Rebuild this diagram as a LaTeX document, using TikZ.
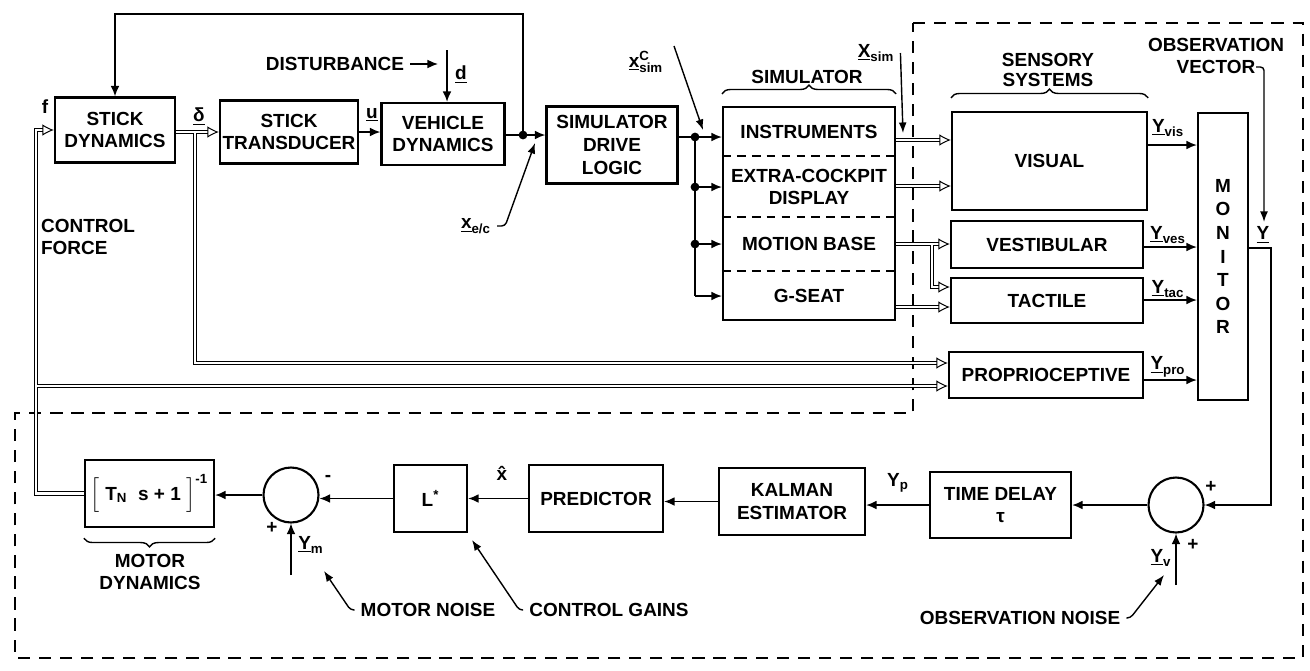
\documentclass[tikz,border=0pt]{standalone}
\usepackage{fontspec}
\setmainfont{Liberation Sans}
\usepackage{amsmath}
\usetikzlibrary{arrows.meta, positioning, calc, decorations.pathreplacing}

\begin{document}
\begin{tikzpicture}[
  x=0.02cm, y=-0.02cm,
  font=\bfseries\fontsize{10.8}{13}\selectfont,
  >={Latex[open, length=6.5pt, width=6.5pt]},
  box/.style={draw, line width=1.3pt, inner sep=1pt, align=center},
  sumnode/.style={draw, circle, line width=1.2pt, minimum size=1.1cm, inner sep=0pt},
  jdot/.style={circle, fill, inner sep=0pt, minimum size=5pt},
  sig/.style={line width=0.8pt, -{Latex[length=6pt, width=5pt]}},
  wire/.style={line width=0.8pt},
  ptr/.style={line width=0.8pt, -{Latex[length=6pt, width=4.5pt]}, rounded corners=2pt},
  dline/.style={line width=0.55pt, double, double distance=1.4pt},
  divider/.style={line width=0.9pt, dash pattern=on 5pt off 3.5pt},
  bound/.style={line width=0.9pt, dash pattern=on 7pt off 5pt},
  curly/.style={decorate, decoration={brace, amplitude=5pt}, line width=0.8pt}
]
\useasboundingbox (0,0) rectangle (1310,670);

% vehicle and simulator
\node[box, minimum width=2.4cm, minimum height=1.3cm] (stick) at (115,130) {STICK\\DYNAMICS};
\node[box, minimum width=2.76cm, minimum height=1.26cm] (trans) at (289,132) {STICK\\TRANSDUCER};
\node[box, minimum width=2.46cm, minimum height=1.24cm] (veh) at (443,134) {VEHICLE\\DYNAMICS};
\node[box, minimum width=2.62cm, minimum height=1.54cm] (sdl) at (612,145) {SIMULATOR\\DRIVE\\LOGIC};
\node[box, minimum width=3.44cm, minimum height=4.26cm] (sim) at (809,213.5) {};
\node (instr) at (809,132) {INSTRUMENTS};
\node[align=center] (extra) at (809,187) {EXTRA-COCKPIT\\DISPLAY};
\node (mbase) at (809,244) {MOTION BASE};
\node (gseat) at (809,296) {G-SEAT};
\foreach \dy in {50,111,165}
  \draw[divider] ($(sim.north west)+(0,\dy)$) -- ($(sim.north east)+(0,\dy)$);

% human operator
\node[box, minimum width=3.9cm, minimum height=1.96cm] (visual) at (1049.5,161) {VISUAL};
\node[box, minimum width=3.84cm, minimum height=0.94cm] (vestib) at (1047,244.5) {VESTIBULAR};
\node[box, minimum width=3.84cm, minimum height=0.9cm] (tactile) at (1047,300.5) {TACTILE};
\node[box, minimum width=3.88cm, minimum height=0.92cm] (proprio) at (1046,375) {PROPRIOCEPTIVE};
\node[box, minimum width=1cm, minimum height=5.74cm, font=\bfseries\fontsize{10.8}{13.4}\selectfont] (monitor) at (1223,256.5) {M\\O\\N\\I\\T\\O\\R};
\node[box, minimum width=2.58cm, minimum height=1.34cm] (motor) at (149.5,493.5) {$\Big[\;\text{T}_{\text{N}}\;\;\text{s}\;\text{+}\;\text{1}\;\Big]^{\text{-1}}$};
\node[sumnode] (sum1) at (291,495) {};
\node[box, minimum width=1.46cm, minimum height=1.34cm] (lstar) at (430.5,498.5) {L\textsuperscript{*}};
\node[box, minimum width=2.68cm, minimum height=1.34cm] (pred) at (596,498.5) {PREDICTOR};
\node[box, minimum width=2.92cm, minimum height=1.34cm] (kalman) at (792,501.5) {KALMAN\\ESTIMATOR};
\node[box, minimum width=2.82cm, minimum height=1.32cm] (delay) at (1000.5,505) {TIME DELAY\\τ};
\node[sumnode] (sum2) at (1176,505) {};

% labels
\node (flbl) at (45,107) {f};
\node (dltlbl) at (199,117) {$\underline{\text{δ}}$};
\node (ulbl) at (372,115) {$\underline{\text{u}}$};
\node (dist) at (335,64) {DISTURBANCE};
\node (dlbl) at (461,75) {$\underline{\text{d}}$};
\node (xec) at (476,226) {$\underline{\text{x}}_{\text{e/c}}$};
\node (xcsim) at (646,62) {$\underline{\text{x}}^{\text{C}}_{\text{sim}}$};
\node (simlbl) at (807,77) {SIMULATOR};
\node (xsim) at (876,53) {$\underline{\text{X}}_{\text{sim}}$};
\node[align=center] (senslbl) at (1048,70) {SENSORY\\[-2pt]SYSTEMS};
\node[align=center] (obsvec) at (1216,56) {OBSERVATION\\VECTOR};
\node (yvis) at (1168,128) {$\underline{\text{Y}}_{\text{vis}}$};
\node (yves) at (1168,235) {$\underline{\text{Y}}_{\text{ves}}$};
\node (ytac) at (1168,289) {$\underline{\text{Y}}_{\text{tac}}$};
\node (ypro) at (1168,367) {$\underline{\text{Y}}_{\text{pro}}$};
\node (ylbl) at (1263,235) {$\underline{\text{Y}}$};
\node[align=left] (cflbl) at (88,237) {CONTROL\\FORCE};
\node[align=center] (mdlbl) at (150,572) {MOTOR\\DYNAMICS};
\node (minus1) at (328,478) {-};
\node (plus1) at (272,528) {+};
\node (ymlbl) at (311,545) {$\underline{\text{Y}}_{\text{m}}$};
\node (xhat) at (502,473) {\^{x}};
\node (mnoise) at (428,610) {MOTOR NOISE};
\node (cgains) at (609,610) {CONTROL GAINS};
\node (yplbl) at (898,483) {$\text{Y}_{\text{p}}$};
\node (onoise) at (1020,618) {OBSERVATION NOISE};
\node (plus2) at (1211,487) {+};
\node (plus3) at (1193,545) {+};
\node (yvlbl) at (1161,558) {$\underline{\text{Y}}_{\text{v}}$};

% braces
\draw[curly] ($(sim.north west)+(0,-12)$) -- ($(sim.north east)+(0,-12)$);
\draw[curly] ($(visual.north west)+(0,-13)$) -- ($(visual.north east)+(0,-13)$);
\draw[curly] ($(motor.south east)+(0,10)$) -- ($(motor.south west)+(0,10)$);

% operator boundary
\draw[bound] (913,23) -- (1303,23) -- (1303,658) -- (15,658) -- (15,413) -- (913,413) -- cycle;

% forward path
\node[jdot] (j1) at (523,135) {};
\coordinate (fb) at (523,14);
\coordinate (dtop) at (447,50);
\draw[sig] (trans.east) -- (trans.east -| veh.west);
\draw[wire] (veh.east |- j1) -- (j1.center);
\draw[sig] (j1.center) -- (j1 -| sdl.west);
\draw[sig] (j1.center) -- (fb) -| (stick.north);
\draw[sig] (dtop) -- (dtop |- veh.north);
\draw[sig] (dist.east) -- ($(dist.east -| dtop)+(-9,0)$);

\node[jdot] (j2) at (695,137) {};
\node[jdot] (j3) at (695,187) {};
\node[jdot] (j4) at (695,244) {};
\coordinate (j5) at (695,296);
\draw[wire] (sdl.east |- j2) -- (j2.center) -- (j5);
\foreach \j in {j2,j3,j4,j5}
  \draw[sig] (\j.center) -- (\j -| sim.west);

% double lines (tips go on the last subpath)
\coordinate (db) at (195,132);
\coordinate (dp) at (195,363);
\coordinate (cfc) at (36,386);
\draw[dline, <->] (db) -- (stick.east |- db)
  (trans.west |- db) -- (db) -- (dp) -- (proprio.west |- dp);
\draw[dline, <->] (cfc) |- (motor.west)
  (stick.west) -| (cfc) -- (proprio.west |- cfc);

\coordinate (s1) at (0,140);
\coordinate (s2) at (0,186);
\coordinate (s3) at (0,244);
\coordinate (s4) at (0,307);
\coordinate (s5) at (932,287);
\draw[dline, ->] (sim.east |- s1) -- (visual.west |- s1);
\draw[dline, ->] (sim.east |- s2) -- (visual.west |- s2);
\draw[dline, <->] (sim.east |- s3) -- (s5 |- s3)
  (vestib.west |- s3) -- (s5 |- s3) |- (tactile.west |- s5);
\draw[dline, ->] (sim.east |- s4) -- (tactile.west |- s4);

% monitor
\coordinate (yv1) at (0,145);
\coordinate (yv2) at (0,247);
\coordinate (yv3) at (0,300);
\coordinate (yv4) at (0,380);
\foreach \b/\r in {visual/yv1, vestib/yv2, tactile/yv3, proprio/yv4}
  \draw[sig] (\b.east |- \r) -- (monitor.west |- \r);
\coordinate (mo) at (1271,248);
\draw[sig] (monitor.east |- mo) -- (mo) |- (sum2.east);

% operator model loop
\draw[sig] (sum2.west) -- (sum2.west -| delay.east);
\draw[sig] (delay.west) -- (delay.west -| kalman.east);
\draw[sig] (kalman.west) -- (kalman.west -| pred.east);
\draw[sig] (pred.west) -- (pred.west -| lstar.east);
\draw[sig] (lstar.west) -- (lstar.west -| sum1.east);
\draw[sig] (sum1.west) -- (sum1.west -| motor.east);
\coordinate (ymc) at (291,575);
\coordinate (yvc) at (1176,585);
\draw[sig] (ymc) -- (sum1.south);
\draw[sig] (yvc) -- (sum2.south);

% pointers
\coordinate (xecend) at (535,143);
\coordinate (xcs) at (674,46);
\coordinate (xcend) at (703,130);
\coordinate (xsend) at (903,133);
\coordinate (ovs) at (1256,67);
\coordinate (ovend) at (1264,222);
\coordinate (mnend) at (324,571);
\coordinate (cgend) at (472,540);
\coordinate (onend) at (1164,575);
\draw[ptr] (xec.east) -- ++(8,0) -- (xecend);
\draw[ptr] (xcs) -- (xcend);
\draw[ptr] (xsim.east) -- (xsend);
\draw[ptr] (ovs) -| (ovend);
\draw[ptr] (mnoise.west) -- ++(-4,0) -- (mnend);
\draw[ptr] (cgains.west) -- ++(-4,0) -- (cgend);
\draw[ptr] (onoise.east) -- ++(4,0) -- (onend);
\end{tikzpicture}
\end{document}
